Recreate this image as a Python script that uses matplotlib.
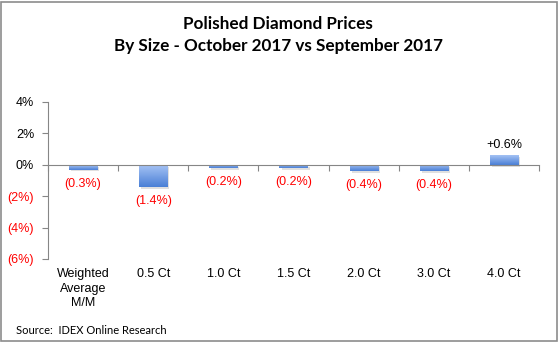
import matplotlib
matplotlib.use("Agg")
import matplotlib.pyplot as plt
import numpy as np
from matplotlib.colors import LinearSegmentedColormap
from matplotlib.patches import Rectangle
import matplotlib.transforms as mtransforms

categories = ["Weighted\nAverage\nM/M", "0.5 Ct", "1.0 Ct", "1.5 Ct", "2.0 Ct", "3.0 Ct", "4.0 Ct"]
changes = [-0.3, -1.4, -0.2, -0.2, -0.4, -0.4, 0.6]
yticks = [-6, -4, -2, 0, 2, 4]

title = "Polished Diamond Prices\nBy Size - October 2017 vs September 2017"
source = "Source:  IDEX Online Research"

W, H = 560, 342
fig = plt.figure(figsize=(W / 100, H / 100), dpi=100)
fig.patch.set_facecolor("white")

# outer frame
fig.patches.append(Rectangle((0.002, 0.003), 0.993, 0.992, transform=fig.transFigure,
                             fill=False, edgecolor="#8c8c8c", linewidth=1.2))

ax = fig.add_axes([48 / W, 1 - 259 / H, (539 - 48) / W, (259 - 102) / H])

x = np.arange(len(categories))
bars = ax.bar(x, changes, width=0.4, color="#6f9be6", zorder=3)

# light at the top, deeper blue at the bottom
cmap = LinearSegmentedColormap.from_list("barfill", ["#4a7fd6", "#a4c2f4"])
grad = np.linspace(0, 1, 64).reshape(-1, 1)
for b in bars:
    bx, by = b.get_x(), b.get_y()
    bw, bh = b.get_width(), b.get_height()
    y0, y1 = min(by, by + bh), max(by, by + bh)
    # soft drop shadow
    sh = Rectangle((bx + 0.03, y0 - 0.12), bw, y1 - y0, facecolor="#d9d9d9",
                   edgecolor="none", zorder=2, alpha=0.8)
    ax.add_patch(sh)
    im = ax.imshow(grad, extent=(bx, bx + bw, y0, y1), origin="lower", cmap=cmap,
                   aspect="auto", zorder=3.5, interpolation="bilinear")
    im.set_clip_path(b)

ax.set_xlim(-0.5, len(categories) - 0.5)
ax.set_ylim(yticks[0], yticks[-1])

# value labels
for xi, v in zip(x, changes):
    if v < 0:
        ax.annotate(f"({abs(v):.1f}%)", (xi, v), xytext=(0, -6), textcoords="offset points",
                    ha="center", va="top", color="#ff0000", fontsize=9,
                    family="Liberation Sans", zorder=5)
    else:
        ax.annotate(f"+{v:.1f}%", (xi, v), xytext=(0, 3), textcoords="offset points",
                    ha="center", va="bottom", color="black", fontsize=9,
                    family="Liberation Sans", zorder=5)

# axes styling
for s in ["top", "right"]:
    ax.spines[s].set_visible(False)
ax.spines["left"].set_color("#868686")
ax.spines["bottom"].set_color("#868686")
ax.spines["bottom"].set_position(("data", 0))
ax.spines["bottom"].set_zorder(4)

ax.set_yticks(yticks)
ax.set_yticklabels([f"({abs(t)}%)" if t < 0 else f"{t}%" for t in yticks],
                   family="Liberation Sans", fontsize=9)
for lbl, t in zip(ax.get_yticklabels(), yticks):
    lbl.set_color("#ff0000" if t < 0 else "black")
ax.tick_params(axis="y", direction="out", length=4, color="#868686", pad=6)

ax.set_xticks(np.arange(-0.5, len(categories), 1.0))
ax.set_xticklabels([])
ax.tick_params(axis="x", direction="out", length=4, color="#868686")

# category labels along the bottom of the plot area
trans = mtransforms.blended_transform_factory(ax.transData, ax.transAxes)
for xi, c in zip(x, categories):
    ax.text(xi, -0.06, c, transform=trans, ha="center", va="top", fontsize=9,
            family="Liberation Sans", linespacing=1.25)

fig.text(0.497, 1 - 35 / H, title, ha="center", va="center", fontsize=12.3,
         fontweight="bold", family="Lato", linespacing=1.4)
fig.text(16 / W, 1 - 330 / H, source, ha="left", va="center", fontsize=8, family="Lato")

fig.savefig("out.png", dpi=100, facecolor="white")
